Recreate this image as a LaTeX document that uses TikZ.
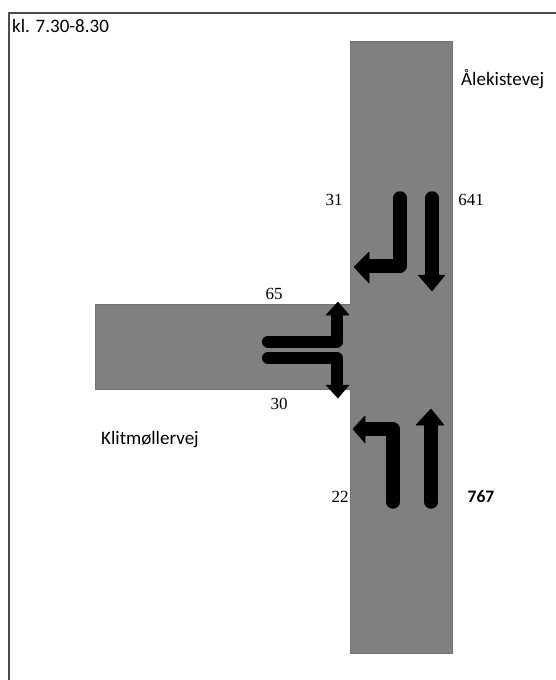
\documentclass[tikz,border=0pt]{standalone}
\usepackage{fontspec}
\setmainfont{Carlito}
\newfontfamily\numfont{Liberation Serif}
\begin{document}
\begin{tikzpicture}[x=1pt,y=-1pt,
  road/.style={fill=roadgray, draw=roadgray!90!black, line width=0.6pt},
  lane/.style={line width=13.5pt, line cap=round, line join=round, draw=black},
  head/.style={fill=black, draw=black, line width=0.5pt, line join=round},
  numlbl/.style={font=\numfont\fontsize{17}{19}\selectfont, inner sep=0pt},
  namelbl/.style={font=\fontsize{19}{22}\selectfont, inner sep=0pt}]
\definecolor{roadgray}{HTML}{808080}
\useasboundingbox (0,0) rectangle (556,680);
\fill[white] (0,0) rectangle (556,680);
% frame
\draw[line width=2pt, draw=black!70] (9,690) -- (9,13) -- (570,13);
% roads
\path[road] (350,41) rectangle (452,653);
\path[road] (95,304) rectangle (350,389);
\fill[roadgray] (348,305) rectangle (352,388);
% top group: left turn (southbound)
\draw[lane] (400,198) -- (400,266) -- (368,266);
\path[head] (369,252) -- (354,267) -- (369,283) -- cycle;
% top group: straight down
\draw[lane] (432,198) -- (432,276);
\path[head] (418,275) -- (432,291) -- (445,275) -- cycle;
% bottom group: left turn (northbound)
\draw[lane] (393,502) -- (393,429) -- (364,429);
\path[head] (365,416) -- (353,429) -- (365,443) -- cycle;
% bottom group: straight up
\draw[lane] (431,502) -- (431,424);
\path[head] (416,425) -- (431,409) -- (444,425) -- cycle;
% west approach: upper (turn up)
\draw[lane, line width=12pt] (268,341.5) -- (337,341.5) -- (337,314);
\path[head] (326,315) -- (338,302) -- (349,315) -- cycle;
% west approach: lower (turn down)
\draw[lane, line width=12pt] (268,358) -- (337,358) -- (337,386);
\path[head] (326,385) -- (338,398) -- (349,385) -- cycle;
% labels
\node[namelbl, anchor=west] (time) at (12,26) {kl. 7.30-8.30};
\node[namelbl, anchor=west] (alek) at (461,79) {Ålekistevej};
\node[namelbl, anchor=west] (klit) at (101,440) {Klitmøllervej};
\node[numlbl] (n31) at (334,200) {31};
\node[numlbl] (n641) at (471,200) {641};
\node[numlbl] (n65) at (274,294) {65};
\node[numlbl] (n30) at (279,404) {30};
\node[numlbl] (n22) at (340,497) {22};
\node[namelbl, font=\bfseries\fontsize{17.5}{19}\selectfont] (n767) at (481,497) {767};
\end{tikzpicture}
\end{document}
